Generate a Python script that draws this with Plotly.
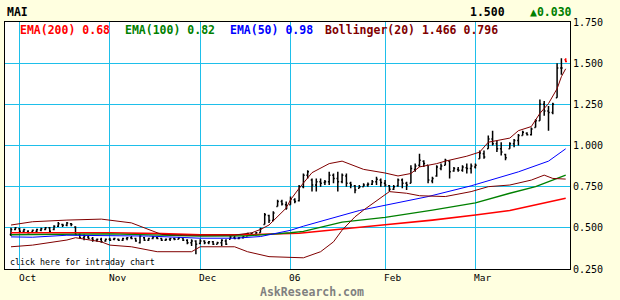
import plotly.graph_objects as go

# ---------------- data ----------------
symbol = "MAI"
last_price = "1.500"
last_change = "▲0.030"

month_labels = ["Oct", "Nov", "Dec", "06", "Feb", "Mar"]
month_first_bar = [2, 23, 44, 65, 87, 108]

bar_high = [
    0.500, 0.505, 0.500, 0.495, 0.485, 0.490, 0.495, 0.500, 0.505, 0.505,
    0.515, 0.535, 0.525, 0.535, 0.530, 0.510, 0.465, 0.460, 0.455, 0.445,
    0.435, 0.440, 0.435, 0.440, 0.440, 0.435, 0.440, 0.445, 0.450, 0.440,
    0.455, 0.445, 0.440, 0.450, 0.445, 0.440, 0.435, 0.440, 0.440, 0.445,
    0.440, 0.430, 0.430, 0.425, 0.430, 0.425, 0.420, 0.420, 0.415, 0.430,
    0.430, 0.450, 0.450, 0.445, 0.450, 0.470, 0.470, 0.475, 0.500, 0.590,
    0.580, 0.600, 0.670, 0.670, 0.660, 0.690, 0.680, 0.760, 0.830, 0.850,
    0.800, 0.800, 0.800, 0.790, 0.840, 0.830, 0.840, 0.830, 0.830, 0.780,
    0.760, 0.760, 0.770, 0.775, 0.790, 0.810, 0.800, 0.790, 0.760, 0.760,
    0.800, 0.800, 0.780, 0.880, 0.890, 0.950, 0.910, 0.880, 0.810, 0.880,
    0.890, 0.920, 0.910, 0.870, 0.870, 0.880, 0.890, 0.890, 0.890, 0.970,
    0.970, 1.060, 1.090, 1.030, 1.020, 0.950, 1.020, 1.040, 1.070, 1.090,
    1.080, 1.110, 1.160, 1.280, 1.270, 1.240, 1.260, 1.500, 1.530, 1.530,
]
bar_low = [
    0.450, 0.485, 0.475, 0.475, 0.465, 0.470, 0.475, 0.480, 0.485, 0.475,
    0.485, 0.505, 0.505, 0.510, 0.510, 0.455, 0.435, 0.425, 0.430, 0.415,
    0.415, 0.410, 0.415, 0.420, 0.425, 0.420, 0.420, 0.425, 0.430, 0.415,
    0.405, 0.420, 0.420, 0.430, 0.430, 0.420, 0.420, 0.420, 0.425, 0.430,
    0.420, 0.400, 0.390, 0.340, 0.400, 0.400, 0.400, 0.395, 0.400, 0.390,
    0.395, 0.430, 0.430, 0.430, 0.435, 0.450, 0.450, 0.455, 0.470, 0.520,
    0.530, 0.540, 0.630, 0.635, 0.610, 0.640, 0.650, 0.660, 0.740, 0.800,
    0.720, 0.720, 0.750, 0.760, 0.760, 0.770, 0.720, 0.770, 0.750, 0.740,
    0.710, 0.740, 0.750, 0.750, 0.760, 0.760, 0.750, 0.750, 0.720, 0.730,
    0.750, 0.740, 0.730, 0.770, 0.840, 0.870, 0.870, 0.770, 0.770, 0.810,
    0.850, 0.880, 0.800, 0.840, 0.840, 0.840, 0.830, 0.830, 0.860, 0.920,
    0.920, 0.980, 1.000, 0.960, 0.940, 0.910, 0.980, 0.990, 1.000, 1.060,
    1.060, 1.060, 1.110, 1.150, 1.180, 1.090, 1.190, 1.290, 1.430, 1.505,
]
bar_open = [
    0.460, 0.490, 0.495, 0.480, 0.480, 0.475, 0.480, 0.485, 0.490, 0.500,
    0.490, 0.510, 0.520, 0.515, 0.525, 0.505, 0.460, 0.440, 0.445, 0.435,
    0.425, 0.430, 0.420, 0.430, 0.430, 0.430, 0.425, 0.435, 0.440, 0.435,
    0.410, 0.440, 0.425, 0.435, 0.440, 0.435, 0.425, 0.430, 0.435, 0.430,
    0.440, 0.425, 0.410, 0.420, 0.405, 0.420, 0.410, 0.415, 0.400, 0.410,
    0.420, 0.430, 0.440, 0.435, 0.440, 0.450, 0.465, 0.460, 0.470, 0.520,
    0.575, 0.545, 0.630, 0.660, 0.640, 0.640, 0.670, 0.665, 0.750, 0.820,
    0.790, 0.760, 0.780, 0.775, 0.780, 0.820, 0.800, 0.780, 0.815, 0.770,
    0.755, 0.740, 0.750, 0.760, 0.765, 0.780, 0.790, 0.770, 0.755, 0.735,
    0.755, 0.790, 0.770, 0.770, 0.855, 0.880, 0.905, 0.880, 0.785, 0.815,
    0.860, 0.880, 0.905, 0.845, 0.855, 0.850, 0.865, 0.860, 0.870, 0.920,
    0.950, 0.980, 1.040, 1.010, 0.980, 0.945, 0.980, 1.010, 1.030, 1.060,
    1.075, 1.065, 1.110, 1.150, 1.250, 1.210, 1.200, 1.290, 1.470, 1.520,
]
bar_close = [
    0.490, 0.500, 0.480, 0.490, 0.470, 0.485, 0.490, 0.495, 0.500, 0.480,
    0.510, 0.525, 0.515, 0.530, 0.520, 0.460, 0.440, 0.450, 0.435, 0.425,
    0.430, 0.415, 0.430, 0.425, 0.435, 0.425, 0.435, 0.440, 0.435, 0.420,
    0.450, 0.425, 0.435, 0.445, 0.435, 0.425, 0.430, 0.435, 0.430, 0.440,
    0.425, 0.410, 0.420, 0.400, 0.420, 0.410, 0.415, 0.400, 0.410, 0.425,
    0.400, 0.445, 0.435, 0.440, 0.445, 0.465, 0.460, 0.470, 0.495, 0.580,
    0.545, 0.590, 0.660, 0.645, 0.620, 0.675, 0.660, 0.750, 0.820, 0.840,
    0.760, 0.780, 0.770, 0.780, 0.820, 0.800, 0.780, 0.820, 0.770, 0.760,
    0.730, 0.750, 0.760, 0.765, 0.780, 0.795, 0.775, 0.760, 0.735, 0.750,
    0.790, 0.770, 0.760, 0.860, 0.875, 0.910, 0.890, 0.790, 0.800, 0.870,
    0.875, 0.910, 0.840, 0.860, 0.850, 0.870, 0.860, 0.875, 0.880, 0.955,
    0.930, 1.040, 1.010, 0.980, 0.960, 0.925, 1.010, 1.030, 1.060, 1.080,
    1.065, 1.100, 1.150, 1.250, 1.210, 1.200, 1.250, 1.470, 1.470, 1.510,
]

ema200_bar = [0, 23, 35, 44, 55, 67, 87, 98, 108, 116, 129]
ema200_val = [0.470, 0.470, 0.465, 0.458, 0.458, 0.467, 0.519, 0.547, 0.578, 0.605, 0.680]

ema100_bar = [0, 13, 23, 44, 55, 65, 68, 77, 87, 98, 108, 116, 122, 129]
ema100_val = [0.458, 0.463, 0.463, 0.450, 0.452, 0.470, 0.478, 0.535, 0.563, 0.607, 0.652, 0.710, 0.750, 0.820]

ema50_bar = [0, 5, 13, 23, 32, 44, 52, 58, 62, 65, 68, 73, 81, 87, 97, 107, 109, 118, 125, 129]
ema50_val = [0.445, 0.443, 0.455, 0.453, 0.450, 0.437, 0.437, 0.447, 0.467, 0.485, 0.510, 0.547,
             0.605, 0.637, 0.690, 0.755, 0.770, 0.840, 0.905, 0.980]

boll_up_bar = [0, 5, 13, 21, 28, 32, 35, 41, 52, 56, 58, 60, 62, 64, 65, 67, 70, 74, 77, 79, 82,
               87, 90, 93, 95, 99, 101, 106, 109, 111, 114, 116, 118, 121, 123, 125, 127, 128, 129]
boll_up_val = [0.517, 0.537, 0.547, 0.553, 0.530, 0.490, 0.460, 0.455, 0.456, 0.470, 0.490, 0.517,
               0.568, 0.620, 0.670, 0.740, 0.835, 0.890, 0.905, 0.885, 0.855, 0.833, 0.815, 0.830,
               0.870, 0.890, 0.905, 0.935, 0.960, 1.020, 1.033, 1.045, 1.090, 1.115, 1.195, 1.255,
               1.345, 1.418, 1.466]

boll_lo_bar = [0, 5, 13, 15, 21, 23, 28, 32, 34, 42, 44, 52, 55, 60, 65, 68, 72, 75, 77, 80, 82,
               87, 88, 92, 95, 101, 107, 111, 116, 121, 124, 126, 129]
boll_lo_val = [0.385, 0.395, 0.426, 0.440, 0.415, 0.395, 0.385, 0.365, 0.355, 0.355, 0.385, 0.385,
               0.355, 0.325, 0.322, 0.318, 0.355, 0.415, 0.486, 0.567, 0.608, 0.700, 0.720, 0.710,
               0.695, 0.690, 0.720, 0.750, 0.760, 0.790, 0.820, 0.800, 0.796]

legend_texts = ["EMA(200) 0.68", "EMA(100) 0.82", "EMA(50) 0.98", "Bollinger(20) 1.466 0.796"]
y_ticks = [0.25, 0.50, 0.75, 1.00, 1.25, 1.50, 1.75]

# ---------------- styling / layout ----------------
W, H = 620, 300
PL, PR, PT, PB = 5, 570, 22, 269  # plot area in pixels
BG = "#FFFFE0"
GRID = "#1EBFEA"
MONO = "DejaVu Sans Mono"

def px(xp):
    return (xp - PL) / (PR - PL)

def py(yp):
    return (PB - yp) / (PB - PT)

n = len(bar_close)
idx = list(range(n))

fig = go.Figure()

fig.add_trace(go.Scatter(x=ema200_bar, y=ema200_val, mode="lines",
                         line=dict(color="#FF0000", width=1.6), hoverinfo="skip"))
fig.add_trace(go.Scatter(x=ema100_bar, y=ema100_val, mode="lines",
                         line=dict(color="#008000", width=1.3), hoverinfo="skip"))
fig.add_trace(go.Scatter(x=ema50_bar, y=ema50_val, mode="lines",
                         line=dict(color="#0000FF", width=1), hoverinfo="skip"))
fig.add_trace(go.Scatter(x=boll_up_bar, y=boll_up_val, mode="lines",
                         line=dict(color="#800000", width=1), hoverinfo="skip"))
fig.add_trace(go.Scatter(x=boll_lo_bar, y=boll_lo_val, mode="lines",
                         line=dict(color="#800000", width=1), hoverinfo="skip"))

fig.add_trace(go.Ohlc(x=idx[:-1], open=bar_open[:-1], high=bar_high[:-1],
                      low=bar_low[:-1], close=bar_close[:-1], tickwidth=0.3,
                      increasing=dict(line=dict(color="black", width=1.5)),
                      decreasing=dict(line=dict(color="black", width=1.5))))
fig.add_trace(go.Ohlc(x=idx[-1:], open=bar_open[-1:], high=bar_high[-1:],
                      low=bar_low[-1:], close=bar_close[-1:], tickwidth=0.3,
                      increasing=dict(line=dict(color="#FF0000", width=1.5)),
                      decreasing=dict(line=dict(color="#FF0000", width=1.5))))

span = (PR - PL) / 4.3
x0 = -(11 - PL) / 4.3
fig.update_layout(
    width=W, height=H,
    margin=dict(l=PL, r=W - PR, t=PT, b=H - PB, pad=0),
    paper_bgcolor=BG, plot_bgcolor="white",
    showlegend=False,
    xaxis=dict(range=[x0, x0 + span], tickvals=month_first_bar, showticklabels=False,
               showgrid=True, gridcolor=GRID, gridwidth=1, zeroline=False,
               showline=True, linecolor="black", linewidth=1, mirror=True,
               rangeslider=dict(visible=False), ticks=""),
    yaxis=dict(range=[0.25, 1.75], tickvals=y_ticks, tickformat=".3f", side="right",
               showgrid=True, gridcolor=GRID, gridwidth=1, zeroline=False,
               showline=True, linecolor="black", linewidth=1, mirror=True,
               ticks="", tickfont=dict(family=MONO, size=10, color="black")),
)

ann = []
def add_text(text, xp, yp, size, color, bold=False, family=MONO):
    ann.append(dict(text=text, x=px(xp), y=py(yp), xref="paper", yref="paper",
                    xanchor="left", yanchor="middle", showarrow=False,
                    borderwidth=0, borderpad=0,
                    font=dict(family=family, size=size, color=color,
                              weight="bold" if bold else "normal")))

add_text(symbol, 7, 12.5, 11.5, "black", True)
add_text(last_price, 470, 12.5, 11.5, "black", True)
add_text(last_change, 530, 12.5, 11.5, "#008000", True)

legend_x = [20, 125, 230, 325]
legend_colors = ["#FF0000", "#008000", "#0000FF", "#800000"]
for t, xp, c in zip(legend_texts, legend_x, legend_colors):
    add_text(t, xp, 29.7, 11.5, c, True)

add_text("click here for intraday chart", 10, 262, 8.3, "black")
add_text("AskResearch.com", 260, 291.5, 11.5, "#808080", True)

for lab, b in zip(month_labels, month_first_bar):
    xp = PL + (b - x0) * 4.3
    add_text(lab, xp - 1, 277, 9.5, "black")

fig.update_layout(annotations=ann)

fig.write_html("out.html")
